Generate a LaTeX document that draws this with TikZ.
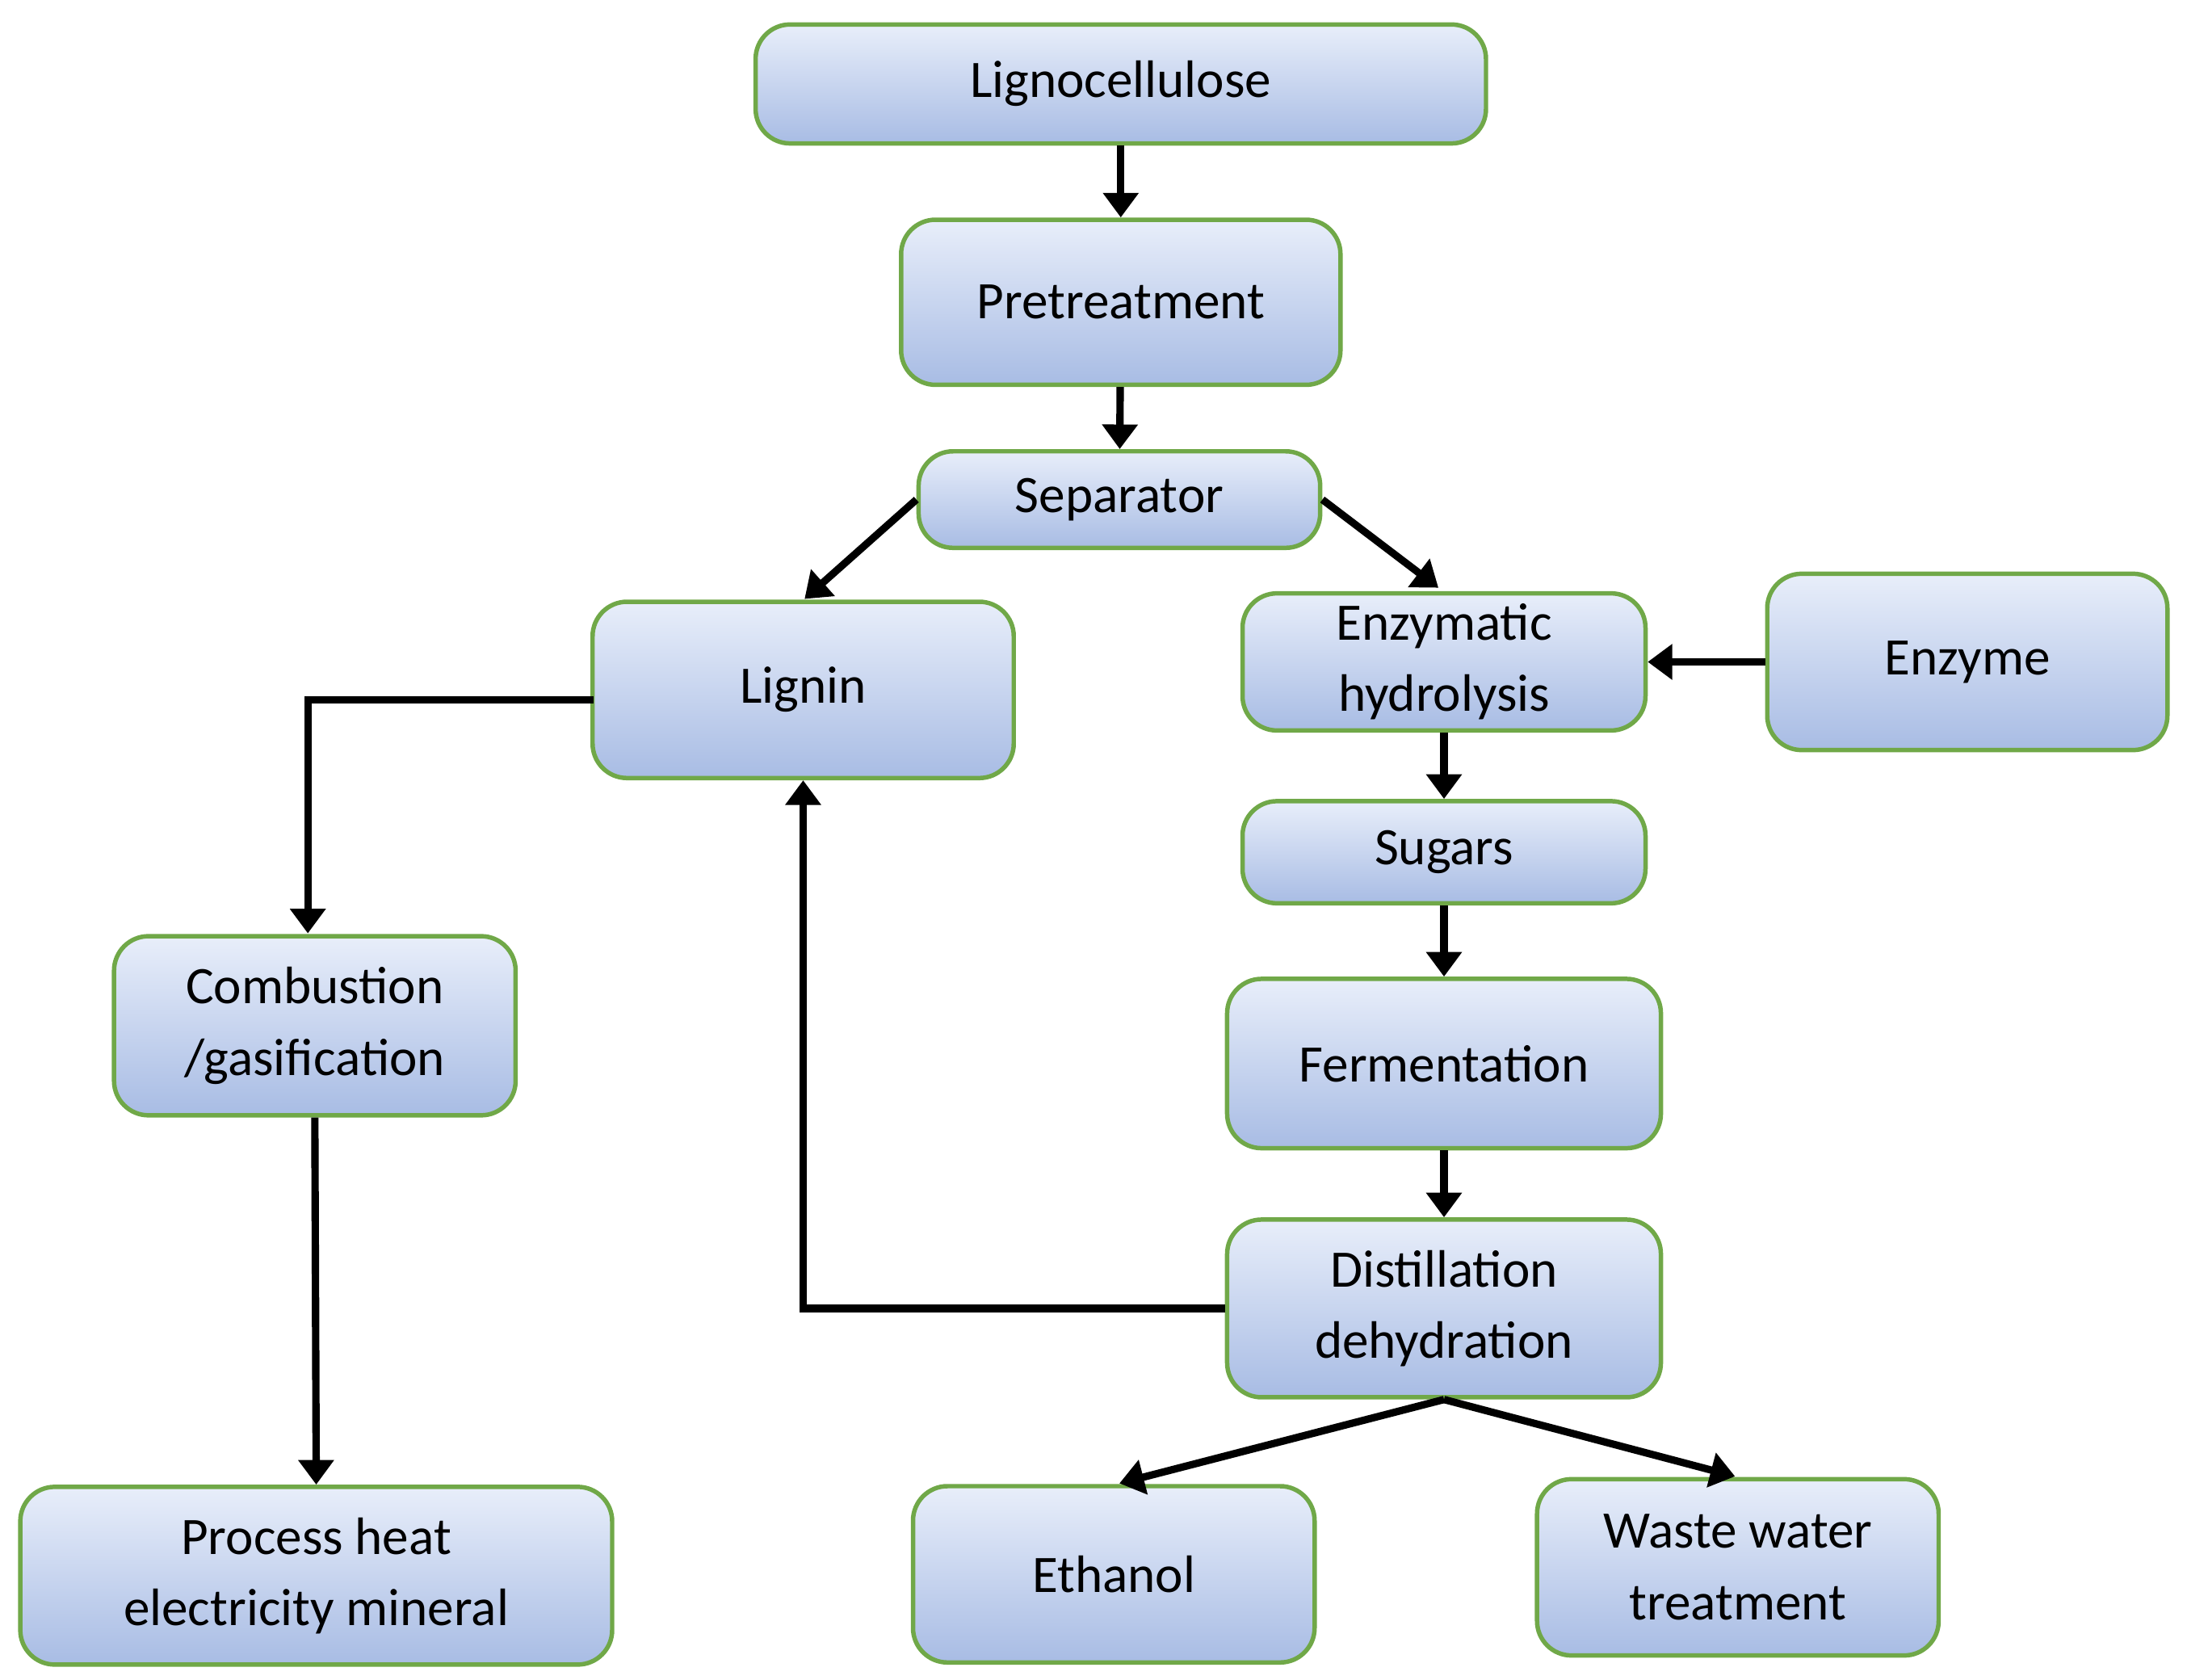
\documentclass[tikz,border=0pt]{standalone}
\usepackage{fontspec}
\setmainfont{Carlito}
\usetikzlibrary{arrows.meta}
\definecolor{bgreen}{RGB}{112,168,72}
\definecolor{ftop}{RGB}{232,238,250}
\definecolor{fbot}{RGB}{168,188,228}
\begin{document}
\begin{tikzpicture}[x=0.01cm,y=-0.01cm,
  box/.style={draw=bgreen,line width=0.9pt,rounded corners=7pt,top color=ftop,bottom color=fbot,
    inner sep=0pt,align=center,font=\fontsize{10.7}{14.5}\selectfont},
  arr/.style={line width=1.5pt,-{Triangle[length=5pt,width=7pt]}}]
\useasboundingbox (0,0) rectangle (1563,1200);
\newcommand{\bx}[6]{\node[box,minimum width=#4*0.01cm,minimum height=#5*0.01cm] (#1) at (#2,#3) {#6};}
\bx{lig}{801}{60}{522}{85}{Lignocellulose}
\bx{pre}{801}{216}{314}{118}{Pretreatment}
\bx{sep}{800}{357}{287}{69}{Separator}
\bx{lign}{574}{493}{301}{126}{Lignin}
\bx{enh}{1032}{473}{288}{98}{Enzymatic\\hydrolysis}
\bx{enz}{1406}{473}{286}{126}{Enzyme}
\bx{sug}{1032}{609}{288}{73}{Sugars}
\bx{fer}{1032}{760}{310}{121}{Fermentation}
\bx{dis}{1032}{935}{310}{127}{Distillation\\dehydration}
\bx{com}{225}{733}{287}{128}{Combustion\\/gasification}
\bx{pro}{226}{1126}{423}{127}{Process heat\\electricity mineral}
\bx{eth}{796}{1125}{287}{126}{Ethanol}
\bx{was}{1242}{1120}{287}{126}{Waste water\\treatment}
\coordinate (l1) at (575,428);
\coordinate (e1) at (1028,420);
\coordinate (lw) at (424,500);
\coordinate (c1) at (220,500);
\coordinate (c2) at (220,667);
\coordinate (d1) at (800,1060);
\coordinate (d2) at (1240,1055);
\draw[arr] (lig) -- (pre);
\draw[arr] (pre) -- (sep);
\draw[arr] (sep.west) -- (l1);
\draw[arr] (sep.east) -- (e1);
\draw[arr] (enz) -- (enh);
\draw[arr] (enh) -- (sug);
\draw[arr] (sug) -- (fer);
\draw[arr] (fer) -- (dis);
\draw[arr] (dis.west) -| (lign.south);
\draw[arr] (lw) -- (c1) -- (c2);
\draw[arr] (com.south) -- (pro.north);
\draw[arr] (dis.south) -- (d1);
\draw[arr] (dis.south) -- (d2);
\end{tikzpicture}
\end{document}
